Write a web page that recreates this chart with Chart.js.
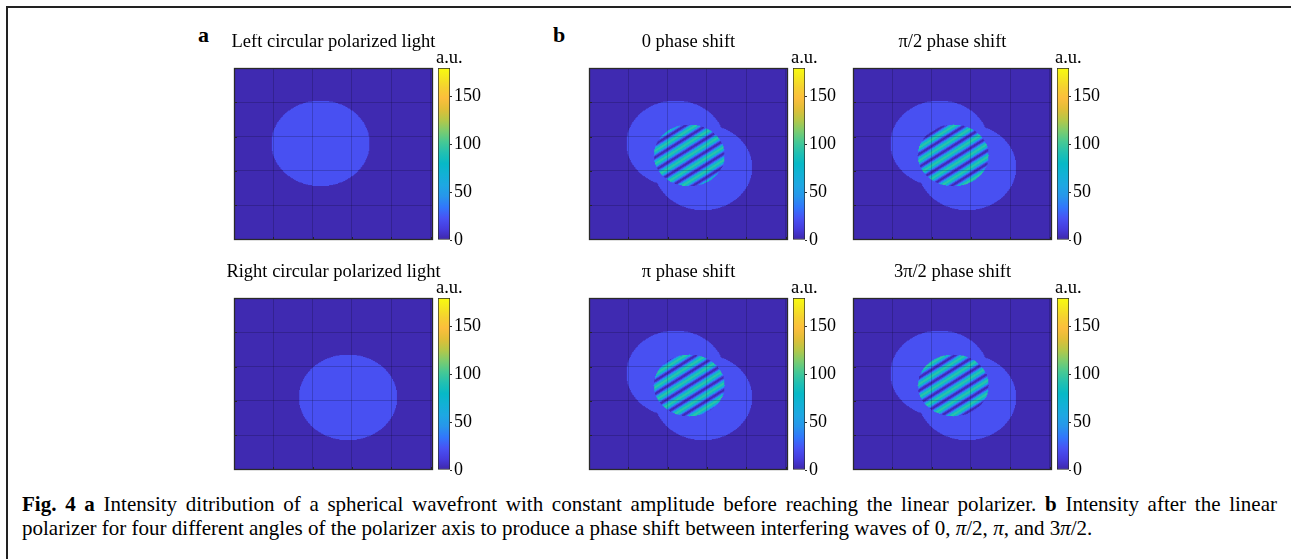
<!DOCTYPE html>
<html>
<head>
<meta charset="utf-8">
<script src="https://cdn.jsdelivr.net/npm/chart.js@4/dist/chart.umd.min.js"></script>
<style>
  html, body { margin: 0; padding: 0; background: #fff; }
  body { width: 1291px; height: 559px; position: relative; overflow: hidden;
         font-family: "Liberation Serif", "Times New Roman", serif; color: #000; }
  .frame { position: absolute; left: 6px; top: 6px; width: 1300px; height: 570px;
           border-left: 2px solid #222; border-top: 2px solid #222; }
  canvas { position: absolute; }
  .tag { position: absolute; font-weight: bold; font-size: 22px; line-height: 22px; }
  .cap { position: absolute; left: 22px; top: 492px; width: 1255px; font-size: 21px; line-height: 24px; }
  .cap .l1 { text-align: justify; text-align-last: justify; }
</style>
</head>
<body>
<div class="frame"></div>
<div class="tag" style="left:198px; top:24px;">a</div>
<div class="tag" style="left:553px; top:24px;">b</div>

<canvas id="hmA1"></canvas><canvas id="cbA1"></canvas>
<canvas id="hmA2"></canvas><canvas id="cbA2"></canvas>
<canvas id="hmB1"></canvas><canvas id="cbB1"></canvas>
<canvas id="hmB2"></canvas><canvas id="cbB2"></canvas>
<canvas id="hmB3"></canvas><canvas id="cbB3"></canvas>
<canvas id="hmB4"></canvas><canvas id="cbB4"></canvas>

<div class="cap">
  <div class="l1"><b>Fig. 4 a</b> Intensity ditribution of a spherical wavefront with constant amplitude before reaching the linear polarizer. <b>b</b> Intensity after the linear</div>
  <div>polarizer for four different angles of the polarizer axis to produce a phase shift between interfering waves of 0, <i>π</i>/2, <i>π</i>, and 3<i>π</i>/2.</div>
</div>

<script>
// ---- data ---------------------------------------------------------------
const gridTicks = [200, 400, 600, 800, 1000];      // grid positions (pixels of the simulated frame)
const axisMax = [1012, 1004];                       // x and y extent of the frame
const colorbarTicks = [0, 50, 100, 150];
const colorbarRange = [0, 180];                     // a.u.
const beamCenterLCP = [440, 440];                   // left circular polarized beam
const beamCenterRCP = [580, 580];                   // right circular polarized beam
const beamRadius = [250];
const overlapCenter = [510, 510];                   // interference zone
const overlapRadius = [180];
const backgroundLevel = [2];
const beamLevel = [22];
// intensity across one fringe period (dark -> bright -> dark)
const fringeProfile = [1, 5, 16, 32, 50, 68, 83, 93, 96, 93, 83, 68, 50, 32, 16, 5];
const fringePeriod = [106, 76];                     // fringe period along x and y
const phaseShiftTitles = ['0 phase shift', 'π/2 phase shift', 'π phase shift', '3π/2 phase shift'];
const phaseShiftFraction = [0, 0.25, 0.5, 0.75];    // shift as fraction of one fringe period
const sourceTitles = ['Left circular polarized light', 'Right circular polarized light'];

// ---- colour map (parula) -------------------------------------------------
const parula = [
  [0.000, 62, 38, 168], [0.063, 70, 59, 220], [0.127, 72, 82, 244], [0.190, 50, 118, 252],
  [0.254, 39, 150, 235], [0.317, 30, 167, 227], [0.381, 18, 177, 214], [0.444, 7, 185, 198],
  [0.508, 34, 192, 177], [0.571, 71, 201, 148], [0.635, 125, 204, 110], [0.698, 181, 199, 72],
  [0.762, 225, 190, 55], [0.825, 252, 190, 60], [0.889, 245, 209, 48], [0.952, 245, 234, 29],
  [1.000, 249, 251, 14]
];
function cmap(v) {
  let t = (v - colorbarRange[0]) / (colorbarRange[1] - colorbarRange[0]);
  t = Math.max(0, Math.min(1, t));
  for (let i = 1; i < parula.length; i++) {
    if (t <= parula[i][0]) {
      const a = parula[i - 1], b = parula[i];
      const f = (t - a[0]) / (b[0] - a[0]);
      return [a[1] + f * (b[1] - a[1]), a[2] + f * (b[2] - a[2]), a[3] + f * (b[3] - a[3])];
    }
  }
  const l = parula[parula.length - 1];
  return [l[1], l[2], l[3]];
}

// ---- intensity field for each panel --------------------------------------
function inside(c, r, x, y) { const dx = x - c[0], dy = y - c[1]; return dx * dx + dy * dy <= r * r; }
function intensity(panel, x, y) {
  if (panel.kind === 'lcp') return inside(beamCenterLCP, beamRadius[0], x, y) ? beamLevel[0] : backgroundLevel[0];
  if (panel.kind === 'rcp') return inside(beamCenterRCP, beamRadius[0], x, y) ? beamLevel[0] : backgroundLevel[0];
  if (inside(overlapCenter, overlapRadius[0], x, y)) {
    let ph = x / fringePeriod[0] + y / fringePeriod[1] + phaseShiftFraction[panel.shift];
    ph = ph - Math.floor(ph);
    return fringeProfile[Math.floor(ph * fringeProfile.length) % fringeProfile.length];
  }
  if (inside(beamCenterLCP, beamRadius[0], x, y) || inside(beamCenterRCP, beamRadius[0], x, y)) return beamLevel[0];
  return backgroundLevel[0];
}

// ---- layout --------------------------------------------------------------
const PW = 199, PH = 172, CBW = 12, CBGAP = 5;
const panels = [
  { id: 'A1', kind: 'lcp', title: sourceTitles[0], left: 234, top: 68 },
  { id: 'A2', kind: 'rcp', title: sourceTitles[1], left: 234, top: 298 },
  { id: 'B1', kind: 'int', shift: 0, title: phaseShiftTitles[0], left: 589, top: 68 },
  { id: 'B2', kind: 'int', shift: 1, title: phaseShiftTitles[1], left: 853, top: 68 },
  { id: 'B3', kind: 'int', shift: 2, title: phaseShiftTitles[2], left: 589, top: 298 },
  { id: 'B4', kind: 'int', shift: 3, title: phaseShiftTitles[3], left: 853, top: 298 }
];

const FONT = '"Liberation Serif", "Times New Roman", serif';
const CELL = 4;

const heatmapPlugin = {
  id: 'heatmap',
  beforeDatasetsDraw(chart) {
    const panel = chart.options.plugins.heatmap.panel;
    const xs = chart.scales.x, ys = chart.scales.y;
    if (!chart.$img) {
      const nx = Math.ceil(axisMax[0] / CELL), ny = Math.ceil(axisMax[1] / CELL);
      const off = document.createElement('canvas');
      off.width = nx; off.height = ny;
      const octx = off.getContext('2d');
      const img = octx.createImageData(nx, ny);
      for (let j = 0; j < ny; j++) {
        for (let i = 0; i < nx; i++) {
          const c = cmap(intensity(panel, (i + 0.5) * CELL, (j + 0.5) * CELL));
          const k = (j * nx + i) * 4;
          img.data[k] = c[0]; img.data[k + 1] = c[1]; img.data[k + 2] = c[2]; img.data[k + 3] = 255;
        }
      }
      octx.putImageData(img, 0, 0);
      chart.$img = { canvas: off, w: nx * CELL, h: ny * CELL };
    }
    const ctx = chart.ctx, a = chart.chartArea;
    const x0 = xs.getPixelForValue(0), x1 = xs.getPixelForValue(chart.$img.w);
    const y0 = ys.getPixelForValue(0), y1 = ys.getPixelForValue(chart.$img.h);
    ctx.save();
    ctx.beginPath(); ctx.rect(a.left, a.top, a.right - a.left, a.bottom - a.top); ctx.clip();
    ctx.imageSmoothingEnabled = true;
    ctx.drawImage(chart.$img.canvas, x0, Math.min(y0, y1), x1 - x0, Math.abs(y1 - y0));
    ctx.restore();
  },
  afterDraw(chart) {
    const panel = chart.options.plugins.heatmap.panel;
    const ctx = chart.ctx, a = chart.chartArea;
    const xs = chart.scales.x, ys = chart.scales.y;
    ctx.save();
    // inward tick marks on the left and bottom edges
    ctx.strokeStyle = '#262626'; ctx.lineWidth = 1;
    ctx.beginPath();
    gridTicks.forEach(v => {
      const px = Math.round(xs.getPixelForValue(v)) + 0.5;
      ctx.moveTo(px, a.bottom); ctx.lineTo(px, a.bottom - 3);
      const py = Math.round(ys.getPixelForValue(v)) + 0.5;
      ctx.moveTo(a.left, py); ctx.lineTo(a.left + 3, py);
    });
    ctx.stroke();
    // axes box
    ctx.strokeStyle = '#2a2a2a'; ctx.lineWidth = 1.3;
    ctx.strokeRect(a.left + 0.5, a.top + 0.5, a.right - a.left - 1, a.bottom - a.top - 1);
    // panel title
    ctx.fillStyle = '#000';
    ctx.font = '18.5px ' + FONT;
    ctx.textAlign = 'center'; ctx.textBaseline = 'alphabetic';
    ctx.fillText(panel.title, (a.left + a.right) / 2, a.top - 21);
    ctx.restore();
  }
};

const colorbarPlugin = {
  id: 'cbarTitle',
  afterDraw(chart) {
    const ctx = chart.ctx, a = chart.chartArea;
    ctx.save();
    ctx.fillStyle = '#000';
    ctx.font = '18.5px ' + FONT;
    ctx.textAlign = 'left'; ctx.textBaseline = 'alphabetic';
    ctx.fillText('a.u.', a.left - 2, a.top - 5);
    ctx.restore();
  }
};

const PADX = 16, PADT = 34, PADB = 2;
function makeHeatmap(panel) {
  const cv = document.getElementById('hm' + panel.id);
  cv.width = PW + 2 * PADX; cv.height = PH + PADT + PADB;
  cv.style.left = (panel.left - PADX) + 'px';
  cv.style.top = (panel.top - PADT) + 'px';
  const gridOpts = { color: 'rgba(10,10,30,0.22)', lineWidth: 1, drawTicks: false, z: 1 };
  new Chart(cv, {
    type: 'scatter',
    data: { datasets: [{ data: [] }] },
    options: {
      responsive: false, animation: false, devicePixelRatio: 1,
      layout: { padding: { left: PADX, right: PADX, top: PADT, bottom: PADB } },
      scales: {
        x: { type: 'linear', min: 0, max: axisMax[0],
             afterBuildTicks: s => { s.ticks = gridTicks.map(v => ({ value: v })); },
             ticks: { display: false }, grid: gridOpts, border: { display: false } },
        y: { type: 'linear', min: 0, max: axisMax[1], reverse: true,
             afterBuildTicks: s => { s.ticks = gridTicks.map(v => ({ value: v })); },
             ticks: { display: false }, grid: gridOpts, border: { display: false } }
      },
      plugins: { legend: { display: false }, tooltip: { enabled: false }, heatmap: { panel } }
    },
    plugins: [heatmapPlugin]
  });
}

const CB_PADL = 2, CB_PADT = 30, CB_PADB = 14, CB_AXISW = 42;
function makeColorbar(panel) {
  const cv = document.getElementById('cb' + panel.id);
  const cbLeft = panel.left + PW + CBGAP;
  cv.width = CB_PADL + CBW + CB_AXISW; cv.height = PH + CB_PADT + CB_PADB;
  cv.style.left = (cbLeft - CB_PADL) + 'px';
  cv.style.top = (panel.top - CB_PADT) + 'px';
  new Chart(cv, {
    type: 'bar',
    data: {
      labels: ['a.u.'],
      datasets: [{
        data: [colorbarRange.slice()],
        backgroundColor: (ctx) => {
          const chart = ctx.chart;
          if (!chart.chartArea) return '#3e26a8';
          const ys = chart.scales.y;
          const yb = ys.getPixelForValue(colorbarRange[0]), yt = ys.getPixelForValue(colorbarRange[1]);
          const g = chart.ctx.createLinearGradient(0, yb, 0, yt);
          parula.forEach(s => g.addColorStop(s[0], `rgb(${s[1]},${s[2]},${s[3]})`));
          return g;
        },
        borderColor: '#2a2a2a', borderWidth: 1, borderSkipped: false,
        barPercentage: 1, categoryPercentage: 1
      }]
    },
    options: {
      responsive: false, animation: false, devicePixelRatio: 1,
      layout: { padding: { left: CB_PADL, right: 0, top: CB_PADT, bottom: CB_PADB } },
      scales: {
        x: { display: false },
        y: { type: 'linear', position: 'right', min: colorbarRange[0], max: colorbarRange[1],
             afterBuildTicks: s => { s.ticks = colorbarTicks.map(v => ({ value: v })); },
             afterFit: s => { s.width = CB_AXISW; },
             ticks: { color: '#000', padding: 2, font: { family: FONT, size: 18 } },
             grid: { drawOnChartArea: false, drawTicks: true, tickLength: 2, color: '#2a2a2a' },
             border: { display: false } }
      },
      plugins: { legend: { display: false }, tooltip: { enabled: false } }
    },
    plugins: [colorbarPlugin]
  });
}

panels.forEach(p => { makeHeatmap(p); makeColorbar(p); });
</script>
</body>
</html>
